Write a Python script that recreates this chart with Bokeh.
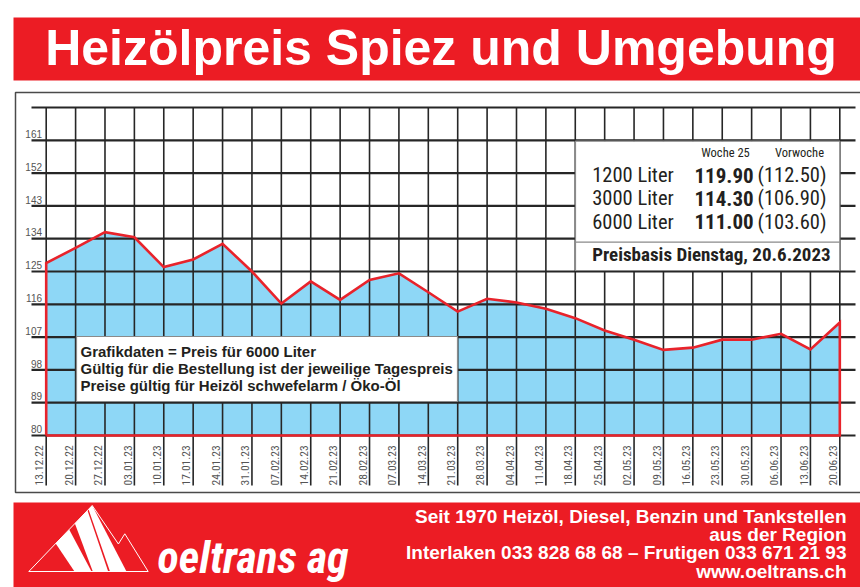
import math
from bokeh.plotting import figure
from bokeh.models import Range1d
from bokeh.core.properties import value
from bokeh.embed import file_html
from bokeh.resources import INLINE

# ---------------- data ----------------
dates = ["13.12.22", "20.12.22", "27.12.22", "03.01.23", "10.01.23", "17.01.23", "24.01.23",
         "31.01.23", "07.02.23", "14.02.23", "21.02.23", "28.02.23", "07.03.23", "14.03.23",
         "21.03.23", "28.03.23", "04.04.23", "11.04.23", "18.04.23", "25.04.23", "02.05.23",
         "09.05.23", "16.05.23", "23.05.23", "30.05.23", "06.06.23", "13.06.23", "20.06.23"]
price_6000 = [127.3, 131.5, 135.8, 134.4, 126.2, 128.3, 132.6, 125.0, 116.2, 122.3, 117.2,
              122.7, 124.5, 119.3, 114.0, 117.5, 116.5, 114.8, 112.2, 108.8, 106.3, 103.5,
              104.1, 106.3, 106.3, 107.9, 103.6, 111.0]
y_ticks = [80, 89, 98, 107, 116, 125, 134, 143, 152, 161]
y_grid_top = 170
y_base = 80

title = "Heizölpreis Spiez und Umgebung"
liters = ["1200 Liter", "3000 Liter", "6000 Liter"]
price_week = ["119.90", "114.30", "111.00"]
price_prev = ["(112.50)", "(106.90)", "(103.60)"]
col_heads = ["Woche 25", "Vorwoche"]
price_basis = "Preisbasis Dienstag, 20.6.2023"
notes = ["Grafikdaten = Preis für 6000 Liter",
         "Gültig für die Bestellung ist der jeweilige Tagespreis",
         "Preise gültig für Heizöl schwefelarm / Öko-Öl"]
footer_lines = ["Seit 1970 Heizöl, Diesel, Benzin und Tankstellen",
                "aus der Region",
                "Interlaken 033 828 68 68 – Frutigen 033 671 21 93",
                "www.oeltrans.ch"]
logo_text = "oeltrans ag"

# ---------------- layout ----------------
W, H = 860, 587
PX_IDX = 29.393           # pixels per week
PX_UNIT = 328.0 / 90.0    # pixels per price unit
X0 = -45.7 / PX_IDX
X1 = X0 + W / PX_IDX
Y1 = 80 + 435 / PX_UNIT
Y0 = Y1 - H / PX_UNIT
BL = 0.33                 # baseline correction (fraction of font size)


def base(y, fs):
    return y - BL * fs


RED = "#ec1c24"
LINE_RED = "#e8232b"
BLUE = "#8ed7f6"
GRID = "#262626"
GRAY = "#555555"
INK = "#231f20"
SANS = value("Liberation Sans")
COND = value("Roboto Condensed")
PX = dict(x_range_name="px", y_range_name="px")

p = figure(width=W, height=H, x_range=Range1d(X0, X1), y_range=Range1d(Y0, Y1),
           output_backend="svg", toolbar_location=None, min_border=0,
           x_axis_location=None, y_axis_location=None, outline_line_color=None)
p.grid.visible = False
p.background_fill_color = "white"
p.border_fill_color = "white"
p.extra_x_ranges = {"px": Range1d(0, W)}
p.extra_y_ranges = {"px": Range1d(H, 0)}

idx = list(range(len(dates)))

# header
p.quad(left=13, right=860, top=17, bottom=80, fill_color=RED, line_color=None, **PX)
p.text(x=[440.5], y=[base(64, 50)], text=[title], text_color="white", text_font=SANS,
       text_font_style="bold", text_font_size="50px", text_align="center",
       text_baseline="alphabetic", **PX)

# frame
p.quad(left=15, right=880, top=92, bottom=492, fill_color=None, line_color="#4a4a4a",
       line_width=1.5, **PX)

# area
p.varea(x=idx, y1=y_base, y2=price_6000, fill_color=BLUE)

# grid
hlines = y_ticks + [y_grid_top]
p.segment(x0=[31] * len(hlines), x1=[855] * len(hlines), y0=hlines, y1=hlines,
          line_color=GRID, line_width=2.2, x_range_name="px")
v_bottom = y_base - 50 / PX_UNIT
p.segment(x0=idx, x1=idx, y0=[y_grid_top] * len(idx), y1=[v_bottom] * len(idx),
          line_color=GRID, line_width=1.6)

# red outline
ox = [idx[0]] + idx + [idx[-1], idx[0]]
oy = [y_base] + price_6000 + [y_base, y_base]
p.line(ox, oy, line_color=LINE_RED, line_width=2.6, line_join="miter")

# y tick labels
p.text(x=[41.5] * len(y_ticks), y=[t + (3 + BL * 10) / PX_UNIT for t in y_ticks],
       text=[str(t) for t in y_ticks], text_color=GRAY, text_font=SANS,
       text_font_size="10px", text_align="right", text_baseline="alphabetic",
       x_range_name="px")

# date labels (rotated)
p.text(x=[i - (3 + BL * 11.5) / PX_IDX for i in idx], y=[485] * len(idx), text=dates,
       angle=math.pi / 2, text_color=GRAY, text_font=COND, text_font_size="11.5px",
       text_align="left", text_baseline="alphabetic", y_range_name="px")

# notes box
p.quad(left=76, right=457, top=336, bottom=401, fill_color="white", line_color="#8a8a8a",
       line_width=1.2, **PX)
p.text(x=[80] * 3, y=[base(v, 15) for v in (356, 373, 390)], text=notes, text_color=INK,
       text_font=SANS, text_font_style="bold", text_font_size="15px", text_align="left",
       text_baseline="alphabetic", **PX)

# info box
p.quad(left=575, right=839.3, top=140.7, bottom=270, fill_color="white",
       line_color="#8a8a8a", line_width=1.2, **PX)
p.segment(x0=[575], x1=[839.3], y0=[241.7], y1=[241.7], line_color="#8a8a8a",
          line_width=1.2, **PX)
p.text(x=[725, 799], y=[base(156, 12.5)] * 2, text=col_heads, text_color=INK,
       text_font=COND, text_font_size="12.5px", text_align="center",
       text_baseline="alphabetic", **PX)
rows_y = [base(v, 21) for v in (181.7, 204.7, 228)]
p.text(x=[591.7] * 3, y=rows_y, text=liters, text_color=INK, text_font=COND,
       text_font_size="20.5px", text_align="left", text_baseline="alphabetic", **PX)
p.text(x=[694] * 3, y=rows_y, text=price_week, text_color=INK, text_font=COND,
       text_font_style="bold", text_font_size="21px", text_align="left",
       text_baseline="alphabetic", **PX)
p.text(x=[757] * 3, y=rows_y, text=price_prev, text_color=INK, text_font=COND,
       text_font_size="20.5px", text_align="left", text_baseline="alphabetic", **PX)
p.text(x=[591.7], y=[base(260, 19)], text=[price_basis], text_color=INK, text_font=COND,
       text_font_style="bold", text_font_size="19px", text_align="left",
       text_baseline="alphabetic", **PX)

# footer
p.quad(left=13, right=860, top=502, bottom=590, fill_color=RED, line_color=None, **PX)
stripes_x = [[55.2, 68.7, 91.0, 74.0], [74.4, 87.0, 107.7, 92.3], [88.0, 91.7, 126.0, 109.5]]
stripes_y = [[543, 529, 571, 571], [523, 510, 571, 571], [508.8, 505, 571, 571]]
p.patches(stripes_x, stripes_y, fill_color="white", line_color=None, **PX)
p.line([28.3, 91.7, 117.9, 124.3, 147.7, 28.3], [571, 505, 543.5, 533.3, 571, 571],
       line_color="white", line_width=1, **PX)
p.text(x=[157], y=[base(571.7, 44)], text=[logo_text], text_color="white", text_font=COND,
       text_font_style="bold italic", text_font_size="44px", text_align="left",
       text_baseline="alphabetic", **PX)
p.text(x=[846] * 4, y=[base(v, 19) for v in (522, 540.3, 558.7, 577)], text=footer_lines,
       text_color="white", text_font=SANS, text_font_style="bold", text_font_size="19px",
       text_align="right", text_baseline="alphabetic", **PX)

open("out.html", "w").write(file_html(p, INLINE))
